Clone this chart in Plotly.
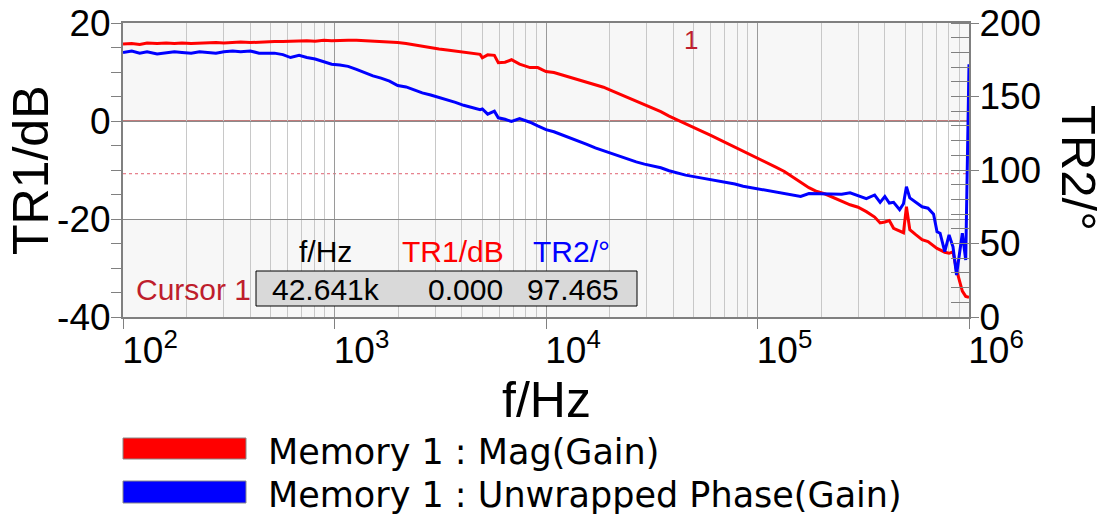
import math
import plotly.graph_objects as go

# ---------------- data ----------------
freq_hz = [100, 110, 120, 130, 145, 160, 175, 190, 210, 230,
           250, 275, 300, 330, 360, 400, 440, 480, 520, 570,
           620, 680, 740, 810, 890, 970, 1060, 1160, 1270, 1390,
           1520, 1660, 1820, 1990, 2180, 2380, 2600, 2850, 3120, 3410,
           3730, 4080, 4460, 4880, 5000, 5300, 5700, 5950, 6400, 6870,
           7500, 8400, 9140, 10000, 10900, 11900, 13000, 14300, 15600, 17100,
           18700, 20400, 22300, 24400, 26700, 29200, 31900, 34900, 38200, 42641,
           45700, 50000, 54700, 59800, 65400, 71500, 78200, 85500, 93500, 102000,
           112000, 122000, 134000, 146000, 160000, 175000, 191000, 209000, 229000, 250000,
           274000, 299000, 327000, 358000, 380000, 400000, 420000, 440000, 470000, 490000,
           506000, 525000, 560000, 600000, 640000, 680000, 706000, 730000, 768000, 805000,
           840000, 873000, 930000, 965000, 1000000]

mag_db = [15.7, 15.8, 15.6, 15.9, 15.8, 15.9, 15.8, 15.9, 15.8, 15.9,
          15.9, 16.0, 15.9, 16.0, 16.1, 16.0, 16.1, 16.1, 16.2, 16.2,
          16.3, 16.3, 16.4, 16.3, 16.5, 16.4, 16.5, 16.5, 16.5, 16.4,
          16.3, 16.3, 16.2, 16.0, 15.8, 15.5, 15.2, 14.9, 14.7, 14.5,
          14.3, 14.1, 13.8, 13.6, 12.9, 13.5, 13.4, 11.9, 12.0, 12.5,
          11.6, 10.9, 10.9, 10.1, 9.9, 9.4, 9.0, 8.5, 8.0, 7.4,
          6.9, 6.2, 5.5, 4.8, 4.1, 3.4, 2.7, 1.9, 1.0, 0.0,
          -0.6, -1.3, -2.1, -2.9, -3.7, -4.5, -5.3, -6.1, -6.9, -7.7,
          -8.6, -9.4, -10.3, -11.3, -12.5, -13.6, -14.4, -14.9, -15.6, -16.4,
          -17.1, -17.6, -18.5, -19.6, -20.8, -20.6, -20.3, -21.9, -22.5, -22.8,
          -17.5, -22.2, -23.2, -24.2, -24.6, -25.5, -26.0, -26.3, -26.8, -27.0,
          -26.7, -30.4, -34.7, -35.8, -36.0]

phase_deg = [180.0, 181.0, 179.5, 180.5, 179.0, 180.0, 180.5, 180.0, 179.5, 180.5,
             180.0, 179.5, 180.5, 181.0, 180.5, 181.0, 179.5, 179.5, 179.5, 178.5,
             176.5, 178.0, 176.5, 175.5, 173.5, 172.0, 171.5, 170.5, 168.5, 166.0,
             164.0, 162.5, 160.5, 157.5, 156.5, 154.5, 152.5, 151.0, 149.5, 147.5,
             146.0, 144.0, 142.5, 141.0, 141.5, 138.0, 140.0, 135.5, 134.5, 133.0,
             135.0, 132.5, 130.0, 127.5, 126.0, 124.0, 122.0, 119.5, 117.5, 115.0,
             113.0, 111.0, 109.5, 107.5, 105.5, 104.0, 103.0, 101.5, 99.5, 97.465,
             96.5, 95.5, 94.5, 93.5, 92.5, 91.5, 90.5, 89.0, 88.0, 87.5,
             86.5, 85.5, 84.5, 83.5, 82.0, 84.0, 84.0, 83.5, 84.0, 83.5,
             84.5, 82.5, 80.5, 83.0, 78.0, 82.0, 77.5, 78.0, 73.0, 77.0,
             88.6, 81.0, 78.0, 75.0, 74.0, 70.0, 58.0, 57.0, 44.4, 55.8,
             47.8, 28.6, 57.0, 38.8, 172.0]

x_tick_vals = [1e2, 1e3, 1e4, 1e5, 1e6]
x_tick_text = ["10<sup>2</sup>", "10<sup>3</sup>", "10<sup>4</sup>", "10<sup>5</sup>", "10<sup>6</sup>"]
y1_tick_vals = [20, 0, -20, -40]
y1_tick_text = ["20", "0", "-20", "-40"]
y2_tick_vals = [0, 50, 100, 150, 200]
y2_tick_text = ["0", "50", "100", "150", "200"]

series_names = ["Memory 1 : Mag(Gain)", "Memory 1 : Unwrapped Phase(Gain)"]
series_colors = ["#ff0000", "#0000ff"]

cursor_label = "Cursor 1"
cursor_freq = 42641
cursor_mag = 0.0
cursor_phase = 97.465
cursor_headers = ["f/Hz", "TR1/dB", "TR2/°"]
cursor_values = ["42.641k", "0.000", "97.465"]

# ---------------- layout helpers ----------------
W, H = 1110, 518
L, R, T, B = 123, 969, 23, 317


def px(xp):
    return (xp - L) / (R - L)


def py(yp):
    return (B - yp) / (B - T)


TXT = "Liberation Sans, Arial, sans-serif"
LEG = "DejaVu Sans, sans-serif"
GREY = "#808080"
CUR = "#be1e2d"

fig = go.Figure()
fig.add_trace(go.Scatter(x=freq_hz, y=mag_db, mode="lines", name=series_names[0],
                         line=dict(color=series_colors[0], width=3), yaxis="y"))
fig.add_trace(go.Scatter(x=freq_hz, y=phase_deg, mode="lines", name=series_names[1],
                         line=dict(color=series_colors[1], width=3), yaxis="y2"))

shapes = []
# background bands
for y0, y1 in [(0, 20), (-40, -20)]:
    shapes.append(dict(type="rect", xref="paper", yref="y", x0=0, x1=1, y0=y0, y1=y1,
                       fillcolor="#f7f7f7", line=dict(width=0), layer="below"))
# cursor lines
shapes.append(dict(type="line", xref="paper", yref="y", x0=0, x1=1, y0=cursor_mag, y1=cursor_mag,
                   line=dict(color="#8b0000", width=1), layer="between"))
shapes.append(dict(type="line", xref="paper", yref="y2", x0=0, x1=1, y0=cursor_phase, y1=cursor_phase,
                   line=dict(color="#e06070", width=1, dash="dot"), layer="between"))
shapes.append(dict(type="line", xref="x", yref="paper", x0=math.log10(cursor_freq), x1=math.log10(cursor_freq),
                   y0=0, y1=1, line=dict(color="#a01020", width=1, dash="dot"), layer="between"))
# cursor value box
shapes.append(dict(type="rect", xref="paper", yref="paper", x0=px(256), x1=px(637), y0=py(306), y1=py(271),
                   fillcolor="#d9d9d9", line=dict(color="#000000", width=1), layer="above"))
# legend swatches
for i, (ytop, ybot) in enumerate([(438, 459), (481, 503)]):
    shapes.append(dict(type="rect", xref="paper", yref="paper", x0=px(123), x1=px(246), y0=py(ybot), y1=py(ytop),
                       fillcolor=series_colors[i], line=dict(color="#888888", width=1), layer="above"))

ann = []
ann.append(dict(text="TR1/dB", xref="paper", yref="paper", x=px(31), y=py(170), textangle=-90,
                showarrow=False, xanchor="center", yanchor="middle", borderpad=0,
                font=dict(family=TXT, size=50, color="black")))
ann.append(dict(text="TR2/°", xref="paper", yref="paper", x=px(1079), y=py(168), textangle=90,
                showarrow=False, xanchor="center", yanchor="middle", borderpad=0,
                font=dict(family=TXT, size=49, color="black")))
ann.append(dict(text="f/Hz", xref="paper", yref="paper", x=px(546), y=py(400),
                showarrow=False, xanchor="center", yanchor="middle", borderpad=0,
                font=dict(family=TXT, size=50, color="black")))
# cursor marker label
ann.append(dict(text="1", xref="x", yref="paper", x=math.log10(cursor_freq), y=py(40), xshift=3,
                showarrow=False, xanchor="left", yanchor="middle", font=dict(family=TXT, size=26, color=CUR)))
# cursor readout
ann.append(dict(text=cursor_label, xref="paper", yref="paper", x=px(253), y=py(289),
                showarrow=False, xanchor="right", yanchor="middle", font=dict(family=TXT, size=30, color=CUR)))
hdr_pos = [(325, "center", "black"), (506, "right", "#ff0000"), (612, "right", "#0000ff")]
for txt, (xp, anc, col) in zip(cursor_headers, hdr_pos):
    ann.append(dict(text=txt, xref="paper", yref="paper", x=px(xp), y=py(251),
                    showarrow=False, xanchor=anc, yanchor="middle", font=dict(family=TXT, size=30, color=col)))
val_pos = [(270, "left"), (505, "right"), (621, "right")]
for txt, (xp, anc) in zip(cursor_values, val_pos):
    ann.append(dict(text=txt, xref="paper", yref="paper", x=px(xp), y=py(289),
                    showarrow=False, xanchor=anc, yanchor="middle", font=dict(family=TXT, size=30, color="black")))
# legend text
for i, yc in enumerate([452, 495]):
    ann.append(dict(text=series_names[i], xref="paper", yref="paper", x=px(266), y=py(yc),
                    showarrow=False, xanchor="left", yanchor="middle", font=dict(family=LEG, size=35, color="black")))

tickfont = dict(family=TXT, size=37, color="black")
fig.update_layout(
    width=W, height=H,
    margin=dict(l=L, r=W - R, t=T, b=H - B, pad=0),
    paper_bgcolor="white", plot_bgcolor="white",
    showlegend=False,
    shapes=shapes, annotations=ann,
    xaxis=dict(type="log", range=[2, 6], automargin=False,
               showline=True, linecolor=GREY, linewidth=2, mirror=True,
               ticks="outside", ticklen=10, tickcolor=GREY, tickwidth=1,
               tickvals=x_tick_vals, ticktext=x_tick_text, ticklabelshift=27, ticklabelstandoff=-10,
               tickfont=tickfont,
               showgrid=True, gridcolor="#9a9a9a", gridwidth=1, zeroline=False,
               minor=dict(dtick="D1", showgrid=True, gridcolor="#c8c8c8", gridwidth=1, ticks="")),
    yaxis=dict(range=[-40, 20], automargin=False, tickvals=y1_tick_vals, ticktext=y1_tick_text,
               ticks="outside", ticklen=10, tickcolor=GREY, tickwidth=1, ticklabelstandoff=-7,
               tickfont=tickfont,
               showline=True, linecolor=GREY, linewidth=2,
               showgrid=True, gridcolor="#8a8a8a", gridwidth=1, zeroline=False,
               minor=dict(dtick=5, ticks="outside", ticklen=10, tickcolor=GREY, showgrid=False)),
    yaxis2=dict(range=[0, 200], automargin=False, overlaying="y", side="right",
                tickvals=y2_tick_vals, ticktext=y2_tick_text,
                ticks="outside", ticklen=8, tickcolor=GREY, tickwidth=1, ticklabelstandoff=-7,
                tickfont=tickfont,
                showline=True, linecolor=GREY, linewidth=2, showgrid=False, zeroline=False,
                minor=dict(dtick=10, ticks="inside", ticklen=18, tickcolor=GREY, showgrid=False)),
)

fig.write_html("out.html")
